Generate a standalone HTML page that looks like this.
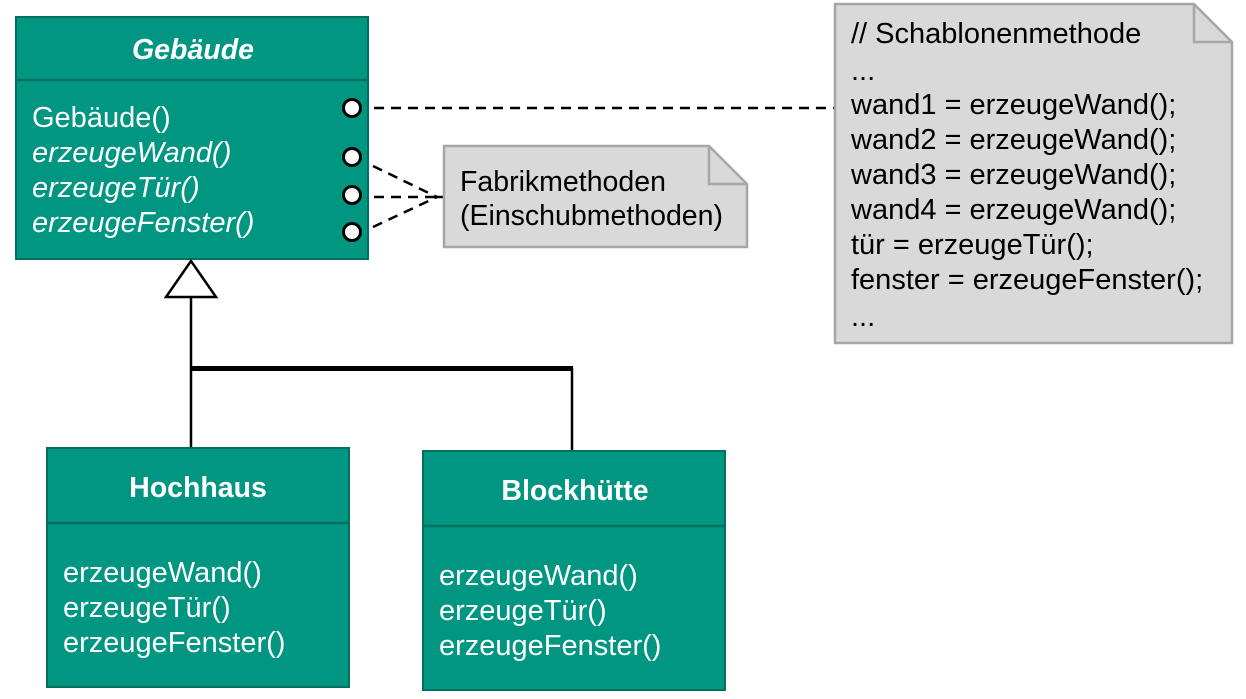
<!DOCTYPE html>
<html><head><meta charset="utf-8"><style>html,body{margin:0;padding:0;background:#fff}svg{display:block}</style></head><body>
<svg width="1246" height="699" viewBox="0 0 1246 699" xmlns="http://www.w3.org/2000/svg" font-family="Liberation Sans, Arial, sans-serif">
<!-- Gebaeude -->
<rect x="16" y="17" width="352" height="242" fill="#009682" stroke="#00705f" stroke-width="2"/>
<line x1="16" y1="80" x2="368" y2="80" stroke="#00705f" stroke-width="2.5"/>
<text x="193" y="59" fill="#fff" font-size="28.5" font-weight="bold" font-style="italic" text-anchor="middle">Gebäude</text>
<g fill="#fff" font-size="29">
<text x="32" y="127">Gebäude()</text>
<text x="32" y="162" font-style="italic">erzeugeWand()</text>
<text x="32" y="197" font-style="italic">erzeugeTür()</text>
<text x="32" y="232" font-style="italic">erzeugeFenster()</text>
</g>
<g fill="#fff" stroke="#000" stroke-width="3">
<circle cx="352" cy="108" r="8.5"/><circle cx="352" cy="157" r="8.5"/><circle cx="352" cy="195" r="8.5"/><circle cx="352" cy="232" r="8.5"/>
</g>
<g stroke="#000" stroke-width="2.5" stroke-dasharray="10,7" fill="none">
<line x1="374" y1="108" x2="835" y2="108"/>
<line x1="373" y1="166" x2="437" y2="197"/>
<line x1="374" y1="197" x2="437" y2="197"/>
<line x1="373" y1="227" x2="437" y2="197"/>
</g>
<line x1="436" y1="197" x2="444" y2="197" stroke="#000" stroke-width="2.5"/>
<!-- Fabrik note -->
<path d="M444 146 H709 L747 184 V247 H444 Z" fill="#d9d9d9" stroke="#a6a6a6" stroke-width="2.5"/>
<path d="M709 146 V184 H747" fill="none" stroke="#a6a6a6" stroke-width="2.5"/>
<g font-size="28.5" fill="#000"><text x="460" y="191">Fabrikmethoden</text><text x="460" y="225">(Einschubmethoden)</text></g>
<!-- big note -->
<path d="M835 4 H1194 L1232 42 V343 H835 Z" fill="#d9d9d9" stroke="#a6a6a6" stroke-width="2.5"/>
<path d="M1194 4 V42 H1232" fill="none" stroke="#a6a6a6" stroke-width="2.5"/>
<g font-size="29" fill="#000">
<text x="851" y="43">// Schablonenmethode</text>
<text x="851" y="80">...</text>
<text x="851" y="114">wand1 = erzeugeWand();</text>
<text x="851" y="149">wand2 = erzeugeWand();</text>
<text x="851" y="184">wand3 = erzeugeWand();</text>
<text x="851" y="219">wand4 = erzeugeWand();</text>
<text x="851" y="254">tür = erzeugeTür();</text>
<text x="851" y="289">fenster = erzeugeFenster();</text>
<text x="851" y="326">...</text>
</g>
<!-- inheritance -->
<polygon points="191,261 166,297 216,297" fill="#fff" stroke="#000" stroke-width="2.5"/>
<line x1="191" y1="297" x2="191" y2="448" stroke="#000" stroke-width="2.5"/>
<line x1="190" y1="368.5" x2="573" y2="368.5" stroke="#000" stroke-width="5"/>
<line x1="572" y1="368" x2="572" y2="451" stroke="#000" stroke-width="2.5"/>
<!-- Hochhaus -->
<rect x="47" y="448" width="302" height="239" fill="#009682" stroke="#00705f" stroke-width="2"/>
<line x1="47" y1="523" x2="349" y2="523" stroke="#00705f" stroke-width="2.5"/>
<text x="198" y="497" fill="#fff" font-size="28.5" font-weight="bold" text-anchor="middle">Hochhaus</text>
<g fill="#fff" font-size="29"><text x="63" y="582">erzeugeWand()</text><text x="63" y="617">erzeugeTür()</text><text x="63" y="652">erzeugeFenster()</text></g>
<!-- Blockhuette -->
<rect x="423" y="451" width="302" height="239" fill="#009682" stroke="#00705f" stroke-width="2"/>
<line x1="423" y1="526" x2="725" y2="526" stroke="#00705f" stroke-width="2.5"/>
<text x="575" y="500" fill="#fff" font-size="28.5" font-weight="bold" text-anchor="middle">Blockhütte</text>
<g fill="#fff" font-size="29"><text x="439" y="585">erzeugeWand()</text><text x="439" y="620">erzeugeTür()</text><text x="439" y="655">erzeugeFenster()</text></g>
</svg>
</body></html>
